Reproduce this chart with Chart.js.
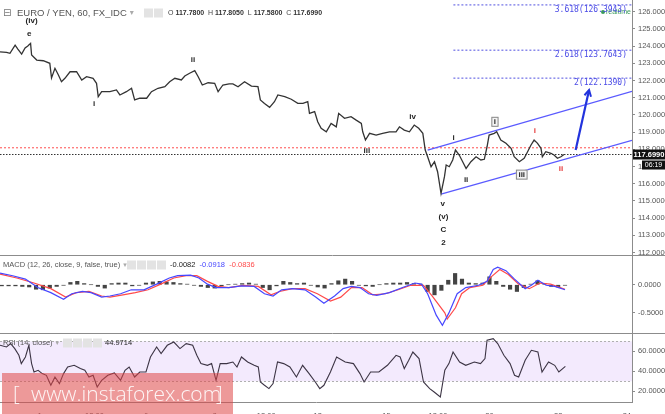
<!DOCTYPE html>
<html lang="en">
<head>
    <meta charset="UTF-8">
    <title>EURO / YEN, 60, FX_IDC</title>
    <!-- Chart.js -->
    <script src="https://cdn.jsdelivr.net/npm/chart.js"></script>
    <style>
        body {
            margin: 0;
            background: #fff;
            font-family: Arial, "Liberation Sans", sans-serif;
        }
        #wrap {
            position: relative;
            width: 665px;
            height: 414px;
            overflow: hidden;
        }
        .pane {
            position: absolute;
            left: 0;
        }
        #main-pane { top: 0; }
        #macd-pane { top: 256px; }
        #rsi-pane { top: 334px; }
        .watermark {
            position: absolute;
            left: 2px;
            top: 373px;
            width: 231px;
            height: 41px;
            background: rgba(222, 70, 70, 0.55);
            color: rgba(255, 255, 255, 0.9);
            font-family: "Open Sans", Arial, sans-serif;
            font-size: 21px;
            font-weight: 300;
            line-height: 40px;
        }
        .watermark span { position: absolute; top: 0; }
    </style>
</head>
<body>
<div id="wrap">
    <canvas id="main-pane" class="pane" width="665" height="256"></canvas>
    <canvas id="macd-pane" class="pane" width="665" height="78"></canvas>
    <canvas id="rsi-pane" class="pane" width="665" height="80"></canvas>
    <div class="watermark">
        <span style="left:11px">[</span>
        <span style="left:29px">www.instaforex.com</span>
        <span style="left:214px">]</span>
    </div>
</div>

<script>
    // x values are trading days counted from Jun 1 00:00 (weekends skipped)
    const X_MIN = -1.25;
    const X_MAX = 17.15;

    // Time axis
    const tickDays = [0, 1.5, 3, 5, 6.5, 8, 10, 11.5, 13, 15, 17];
    const tickLabels = ["Jun", "12:00", "6", "8", "12:00", "13", "15", "12:00", "20", "22", "24"];

    // Price pane
    const priceTicks = [112, 113, 114, 115, 116, 117, 118, 119, 120, 121, 122, 123, 124, 125, 126];
    const priceDays = [-1.25, -1.06, -0.96, -0.81, -0.73, -0.62, -0.52, -0.44, -0.36, -0.33,
        -0.18, 0.01, 0.20, 0.25, 0.35, 0.45, 0.54, 0.64, 0.79, 0.98,
        1.13, 1.27, 1.46, 1.56, 1.61, 1.71, 1.95, 2.14, 2.24, 2.43,
        2.58, 2.67, 2.82, 3.02, 3.16, 3.35, 3.55, 3.69, 3.84, 4.03,
        4.13, 4.27, 4.42, 4.52, 4.64, 4.81, 5.00, 5.10, 5.24, 5.42,
        5.53, 5.68, 5.87, 6.07, 6.26, 6.33, 6.45, 6.60, 6.74, 6.84,
        7.04, 7.23, 7.42, 7.57, 7.71, 7.76, 7.91, 8.00, 8.10, 8.25,
        8.39, 8.54, 8.61, 8.78, 8.97, 9.12, 9.27, 9.31, 9.39, 9.51,
        9.70, 9.89, 10.09, 10.28, 10.38, 10.52, 10.67, 10.81, 10.94, 11.06,
        11.13, 11.20, 11.30, 11.40, 11.49, 11.59, 11.69, 11.74, 11.83, 11.93,
        12.01, 12.12, 12.22, 12.32, 12.46, 12.61, 12.75, 12.85, 12.93, 12.99,
        13.14, 13.21, 13.33, 13.48, 13.63, 13.72, 13.87, 14.01, 14.11, 14.21,
        14.30, 14.40, 14.50, 14.54, 14.64, 14.79, 14.88, 14.98, 15.08, 15.17];
    const priceValues = [123.67, 123.64, 123.58, 124.06, 123.83, 123.54, 123.89, 124.01, 124.16, 123.48,
        123.19, 123.15, 123.00, 122.15, 122.71, 122.32, 121.93, 122.13, 122.51, 122.51,
        122.03, 122.22, 122.13, 121.84, 121.06, 121.35, 121.35, 121.45, 121.16, 121.35,
        121.55, 120.87, 120.97, 120.97, 121.35, 121.55, 121.64, 121.93, 122.13, 122.03,
        122.26, 122.42, 122.57, 122.22, 121.74, 121.87, 121.84, 121.35, 121.74, 121.80,
        121.80, 121.64, 121.93, 121.68, 121.64, 120.87, 120.67, 120.44, 120.77, 121.16,
        121.06, 120.91, 120.67, 120.67, 120.77, 120.09, 120.19, 119.60, 119.22, 119.02,
        119.51, 119.31, 120.09, 119.80, 119.90, 119.70, 119.51, 119.02, 118.54, 118.93,
        118.83, 118.93, 119.02, 119.02, 119.31, 119.12, 119.02, 119.41, 119.22, 118.93,
        117.96, 117.57, 116.99, 117.28, 116.70, 115.44, 116.41, 117.09, 116.99, 117.38,
        117.96, 117.67, 117.28, 116.89, 117.28, 117.57, 117.38, 117.42, 118.15, 118.83,
        118.93, 119.02, 118.54, 118.35, 118.06, 117.57, 117.28, 117.48, 117.86, 118.25,
        118.54, 118.35, 118.06, 117.57, 117.86, 117.77, 117.67, 117.48, 117.57, 117.70];
    const lastPrice = 117.699;
    const resistanceLevel = 118.09;

    // Channel, arrow and fibonacci targets
    const upperChannelDays = [11.20, 17.15];
    const upperChannelPrices = [117.96, 121.37];
    const lowerChannelDays = [11.59, 17.15];
    const lowerChannelPrices = [115.40, 118.52];
    const arrowDays = [15.51, 15.90];
    const arrowPrices = [117.96, 121.45];
    const fibStartDay = 11.95;
    const fibLevels = [126.3943, 123.7643, 122.1390];
    const fibLabels = ["3.618(126.3943)", "2.618(123.7643)", "2(122.1390)"];

    // Wave count labels
    const waveTexts = ["(iv)", "e", "i", "ii", "iii", "iv", "i", "ii", "i", "iii", "i", "ii", "v", "(v)", "C", "2"];
    const waveDays = [-0.33, -0.40, 1.49, 4.37, 9.43, 10.76, 11.96, 12.32, 13.16, 13.94, 14.32, 15.08, 11.64, 11.66, 11.66, 11.66];
    const wavePrices = [125.48, 124.74, 120.62, 123.19, 117.93, 119.90, 118.67, 116.21, 119.60, 116.53, 119.06, 116.85, 114.86, 114.08, 113.35, 112.59];
    const waveKinds = ["plain", "plain", "plain", "plain", "plain", "plain", "plain", "plain", "boxed", "boxed", "red", "red", "plain", "plain", "plain", "plain"];

    // MACD pane
    const macdTicks = [0, -0.5];
    const macdDays = [-1.25, -0.88, -0.51, -0.15, 0.23, 0.60, 0.84, 1.15, 1.40, 1.71,
        1.95, 2.26, 2.57, 2.94, 3.31, 3.68, 3.92, 4.30, 4.54, 4.79,
        5.04, 5.41, 5.78, 6.15, 6.45, 6.70, 6.95, 7.26, 7.63, 7.94,
        8.18, 8.49, 8.74, 8.98, 9.23, 9.48, 9.72, 10.09, 10.47, 10.83,
        11.02, 11.20, 11.45, 11.63, 11.82, 12.06, 12.31, 12.68, 12.93, 13.11,
        13.24, 13.48, 13.73, 14.04, 14.22, 14.41, 14.65, 14.90, 15.20];
    const macdValues = [0.205, 0.16, 0.10, -0.05, -0.14, -0.26, -0.16, -0.12, -0.14, -0.22,
        -0.20, -0.16, -0.09, -0.09, 0.01, 0.12, 0.16, 0.17, 0.12, 0.01,
        -0.05, -0.05, -0.02, -0.03, -0.16, -0.20, -0.09, -0.07, -0.09, -0.22,
        -0.33, -0.20, -0.07, -0.03, -0.05, -0.16, -0.19, -0.14, -0.05, 0.03,
        0.01, -0.16, -0.54, -0.72, -0.50, -0.16, -0.05, -0.01, 0.06, 0.27,
        0.31, 0.25, 0.10, -0.07, -0.01, 0.08, -0.01, -0.03, -0.09];
    const signalDays = [-1.25, -0.76, -0.26, 0.23, 0.66, 0.97, 1.34, 1.71, 1.95, 2.33,
        2.69, 3.06, 3.43, 3.81, 4.17, 4.48, 4.79, 5.10, 5.41, 5.84,
        6.27, 6.64, 6.89, 7.26, 7.63, 7.99, 8.37, 8.67, 8.98, 9.29,
        9.60, 9.97, 10.34, 10.71, 11.08, 11.33, 11.70, 11.77, 12.01, 12.19,
        12.43, 12.81, 13.05, 13.30, 13.55, 13.85, 14.16, 14.47, 14.78, 15.20];
    const signalValues = [0.19, 0.12, 0.03, -0.07, -0.22, -0.14, -0.12, -0.20, -0.22, -0.18,
        -0.14, -0.09, 0.01, 0.12, 0.16, 0.16, 0.06, -0.03, -0.05, -0.01,
        -0.03, -0.18, -0.12, -0.07, -0.07, -0.16, -0.29, -0.22, -0.05, -0.05,
        -0.18, -0.16, -0.09, -0.01, -0.01, -0.20, -0.50, -0.61, -0.41, -0.16,
        -0.05, -0.01, 0.14, 0.27, 0.18, 0.01, -0.07, 0.03, 0.01, -0.08];
    const histDays = [-1.2, -1.0, -0.8, -0.6, -0.4, -0.2, 0.0, 0.2, 0.4, 0.6,
        0.8, 1.0, 1.2, 1.4, 1.6, 1.8, 2.0, 2.2, 2.4, 2.6,
        2.8, 3.0, 3.2, 3.4, 3.6, 3.8, 4.0, 4.2, 4.4, 4.6,
        4.8, 5.0, 5.2, 5.4, 5.6, 5.8, 6.0, 6.2, 6.4, 6.6,
        6.8, 7.0, 7.2, 7.4, 7.6, 7.8, 8.0, 8.2, 8.4, 8.6,
        8.8, 9.0, 9.2, 9.4, 9.6, 9.8, 10.0, 10.2, 10.4, 10.6,
        10.8, 11.0, 11.2, 11.4, 11.6, 11.8, 12.0, 12.2, 12.4, 12.6,
        12.8, 13.0, 13.2, 13.4, 13.6, 13.8, 14.0, 14.2, 14.4, 14.6,
        14.8, 15.0, 15.2];
    const histValues = [-0.02, -0.02, -0.02, -0.03, -0.04, -0.08, -0.09, -0.06, -0.03, -0.01,
        0.04, 0.06, 0.02, 0.00, -0.03, -0.06, 0.02, 0.03, 0.03, -0.02,
        -0.01, 0.03, 0.05, 0.06, 0.05, 0.04, 0.02, 0.01, -0.01, -0.03,
        -0.05, -0.06, -0.02, 0.00, 0.01, 0.02, 0.03, 0.01, -0.05, -0.09,
        -0.02, 0.06, 0.04, 0.02, 0.03, -0.01, -0.04, -0.06, 0.02, 0.07,
        0.10, 0.06, -0.01, -0.02, -0.03, 0.00, 0.02, 0.03, 0.03, 0.04,
        0.02, 0.01, -0.12, -0.18, -0.10, 0.08, 0.20, 0.10, 0.03, 0.02,
        0.03, 0.14, 0.06, -0.03, -0.08, -0.12, -0.05, 0.01, 0.07, 0.02,
        -0.03, -0.04, -0.01];

    // RSI pane
    const rsiTicks = [20, 40, 60];
    const rsiBand = [30, 70];
    const rsiDays = [-1.25, -1.06, -0.94, -0.82, -0.70, -0.63, -0.51, -0.41, -0.33, -0.26,
        -0.14, -0.02, 0.10, 0.23, 0.35, 0.48, 0.60, 0.72, 0.91, 1.09,
        1.22, 1.34, 1.46, 1.58, 1.71, 1.89, 2.08, 2.26, 2.39, 2.51,
        2.67, 2.82, 3.00, 3.13, 3.31, 3.44, 3.62, 3.81, 3.99, 4.17,
        4.36, 4.48, 4.60, 4.79, 4.91, 5.04, 5.16, 5.35, 5.53, 5.65,
        5.78, 5.96, 6.15, 6.27, 6.33, 6.45, 6.58, 6.70, 6.83, 7.01,
        7.19, 7.38, 7.56, 7.75, 7.93, 8.06, 8.18, 8.37, 8.55, 8.80,
        9.04, 9.23, 9.35, 9.54, 9.78, 10.03, 10.28, 10.40, 10.52, 10.65,
        10.77, 10.95, 11.08, 11.26, 11.39, 11.57, 11.70, 11.82, 11.94, 12.13,
        12.31, 12.56, 12.74, 12.87, 12.93, 13.11, 13.24, 13.42, 13.60, 13.73,
        13.85, 14.04, 14.22, 14.41, 14.53, 14.72, 14.90, 15.02, 15.21];
    const rsiValues = [66, 64.3, 67.7, 62.7, 56, 47.7, 54.3, 66, 47.7, 39.3,
        41, 37.7, 36, 26, 34.3, 27.7, 37.7, 44.3, 46, 42.7,
        41, 34.3, 36, 24.3, 31, 36, 38.3, 31, 41, 44.3,
        34.3, 39.3, 39.3, 54.3, 64.3, 57.7, 66, 69.3, 62.7, 67.7,
        66, 56, 47.7, 46, 47.7, 31, 47.7, 47.7, 49.3, 44.3,
        54.3, 49.3, 46, 44.3, 29.3, 26, 22.7, 27.7, 49.3, 47.7,
        44.3, 34.3, 46, 37.7, 29.3, 22.7, 26, 39.3, 54.3, 49.3,
        47.7, 37.7, 29.3, 39.3, 39.3, 46, 56, 54.3, 42.7, 51,
        59.3, 52.7, 29.3, 22.7, 19.3, 14.3, 41, 47.7, 59.3, 49.3,
        46, 49.3, 47.7, 52.7, 71, 72.7, 67.7, 56, 47.7, 36,
        34.3, 51, 61, 59.3, 39.3, 49.3, 46, 39.3, 45];

    const AXIS_W = 33;
    const AXIS_COLOR = "#8c8c8c";
    const LABEL_COLOR = "#555";

    // Pair two arrays into {x, y} points
    function toPoints(xs, ys) {
        return xs.map((x, i) => ({ x: x, y: ys[i] }));
    }

    function lineSet(xs, ys, color, width, dash) {
        return {
            data: toPoints(xs, ys),
            borderColor: color,
            borderWidth: width,
            borderDash: dash || [],
            pointRadius: 0,
            tension: 0,
            fill: false
        };
    }

    // Remove the automatic label padding so every pane lines up exactly
    function noPadding(s) {
        s.paddingTop = 0;
        s.paddingBottom = 0;
        s.paddingLeft = 0;
        s.paddingRight = 0;
    }

    // Shared time axis (only the RSI pane shows it)
    function timeAxis(show) {
        return {
            type: "linear",
            min: X_MIN,
            max: X_MAX,
            offset: false,
            display: show,
            grid: { display: false },
            border: { display: true, color: AXIS_COLOR },
            ticks: {
                autoSkip: false,
                maxRotation: 0,
                padding: 1,
                color: LABEL_COLOR,
                font: { size: 7.5, family: "Arial" },
                callback: (v, i) => tickLabels[i]
            },
            afterBuildTicks: s => { s.ticks = tickDays.map(v => ({ value: v })); },
            afterFit: s => {
                s.height = show ? 12 : 0;
                noPadding(s);
            }
        };
    }

    // Right hand value axis with fixed width
    function valueAxis(min, max, ticks) {
        return {
            position: "right",
            min: min,
            max: max,
            grid: { display: true, drawOnChartArea: false, tickLength: 3, color: AXIS_COLOR },
            border: { display: true, color: AXIS_COLOR },
            ticks: {
                padding: 3,
                color: LABEL_COLOR,
                font: { size: 7.5, family: "Arial" },
                callback: v => Number(v).toFixed(4)
            },
            afterBuildTicks: s => { s.ticks = ticks.map(v => ({ value: v })); },
            afterFit: s => { s.width = AXIS_W; noPadding(s); }
        };
    }

    function baseOptions(scales) {
        return {
            responsive: false,
            animation: false,
            layout: { padding: 0 },
            plugins: { legend: { display: false }, tooltip: { enabled: false } },
            scales: scales
        };
    }

    // Small grey icon squares used in the pane headers
    function drawIcons(ctx, x, y, n) {
        ctx.fillStyle = "#e3e3e3";
        for (let i = 0; i < n; i++) {
            ctx.fillRect(x + i * 10, y - 4.5, 9, 9);
        }
    }

    function drawText(ctx, text, x, y, color, font) {
        ctx.font = font;
        ctx.fillStyle = color;
        ctx.textAlign = "left";
        ctx.textBaseline = "middle";
        ctx.fillText(text, x, y);
        return x + ctx.measureText(text).width;
    }

    function paneSeparator(ctx, y, width) {
        ctx.save();
        ctx.strokeStyle = AXIS_COLOR;
        ctx.lineWidth = 1;
        ctx.beginPath();
        ctx.moveTo(0, y + 0.5);
        ctx.lineTo(width, y + 0.5);
        ctx.stroke();
        ctx.restore();
    }

    // ---- price pane ----
    const mainOverlay = {
        id: "mainOverlay",
        afterDatasetsDraw(chart) {
            const ctx = chart.ctx;
            const xs = chart.scales.x;
            const ys = chart.scales.y;
            ctx.save();

            // arrow head at the end of the arrow line
            const pts = chart.getDatasetMeta(1).data;
            const a = pts[0], b = pts[pts.length - 1];
            const ang = Math.atan2(b.y - a.y, b.x - a.x);
            ctx.strokeStyle = "#2233dd";
            ctx.lineWidth = 2;
            ctx.beginPath();
            ctx.moveTo(b.x - 7 * Math.cos(ang - 0.5), b.y - 7 * Math.sin(ang - 0.5));
            ctx.lineTo(b.x, b.y);
            ctx.lineTo(b.x - 7 * Math.cos(ang + 0.5), b.y - 7 * Math.sin(ang + 0.5));
            ctx.stroke();

            // realtime marker + fibonacci labels
            ctx.fillStyle = "#3a9a5a";
            ctx.beginPath();
            ctx.arc(chart.chartArea.right - 29, 12, 2, 0, Math.PI * 2);
            ctx.fill();
            drawText(ctx, "realtime", chart.chartArea.right - 26, 12, "#3a9a5a", "7px Arial");
            ctx.font = '8px "DejaVu Sans Mono"';
            ctx.textAlign = "right";
            ctx.textBaseline = "middle";
            fibLevels.forEach((lvl, i) => {
                const py = ys.getPixelForValue(lvl);
                ctx.fillStyle = "#4a4ae6";
                ctx.fillText(fibLabels[i], chart.chartArea.right - 5, Math.max(py + 5, 8));
            });

            // wave count labels
            ctx.textAlign = "center";
            waveTexts.forEach((t, i) => {
                const px = xs.getPixelForValue(waveDays[i]);
                const py = ys.getPixelForValue(wavePrices[i]);
                ctx.font = "bold 8px Arial";
                if (waveKinds[i] === "boxed") {
                    const w = ctx.measureText(t).width + 5;
                    ctx.fillStyle = "#f4f4f4";
                    ctx.fillRect(px - w / 2, py - 5, w, 10);
                    ctx.strokeStyle = "#888";
                    ctx.lineWidth = 1;
                    ctx.strokeRect(px - w / 2 + 0.5, py - 4.5, w - 1, 9);
                }
                ctx.fillStyle = waveKinds[i] === "red" ? "#e53535" : "#222";
                ctx.fillText(t, px, py);
            });
            ctx.restore();
        },
        afterDraw(chart) {
            const ctx = chart.ctx;
            const ys = chart.scales.y;
            ctx.save();

            // header line
            let x = drawText(ctx, "\u229F", 3, 13, "#777", "10px \"DejaVu Sans\"");
            x = drawText(ctx, "EURO / YEN, 60, FX_IDC", 17, 13, "#555", "9.5px Arial");
            drawText(ctx, "\u25BE", x + 3, 13, "#aaa", "8px \"DejaVu Sans\"");
            drawIcons(ctx, 144, 13, 2);
            x = 168;
            x = drawText(ctx, "O ", x, 13, "#444", "7px Arial");
            x = drawText(ctx, "117.7800  ", x, 13, "#333", "bold 7px Arial");
            x = drawText(ctx, "H ", x, 13, "#444", "7px Arial");
            x = drawText(ctx, "117.8050  ", x, 13, "#333", "bold 7px Arial");
            x = drawText(ctx, "L ", x, 13, "#444", "7px Arial");
            x = drawText(ctx, "117.5800  ", x, 13, "#333", "bold 7px Arial");
            x = drawText(ctx, "C ", x, 13, "#444", "7px Arial");
            drawText(ctx, "117.6990", x, 13, "#333", "bold 7px Arial");

            // last price tag and bar countdown on the axis
            const py = ys.getPixelForValue(lastPrice);
            const left = chart.chartArea.right + 1;
            ctx.fillStyle = "#111";
            ctx.fillRect(left, py - 5, chart.width - left, 10);
            ctx.fillRect(left + 9, py + 6, chart.width - left - 9, 9);
            ctx.font = "bold 7.5px Arial";
            ctx.fillStyle = "#fff";
            ctx.textAlign = "center";
            ctx.textBaseline = "middle";
            ctx.fillText(lastPrice.toFixed(4), (left + chart.width) / 2, py);
            ctx.font = "7px Arial";
            ctx.fillText("06:19", (left + 9 + chart.width) / 2, py + 10.5);

            paneSeparator(ctx, chart.height - 1, chart.width);
            ctx.restore();
        }
    };

    const mainDatasets = [
        lineSet(priceDays, priceValues, "#333", 1.3),
        lineSet(arrowDays, arrowPrices, "#2233dd", 2.2),
        lineSet(upperChannelDays, upperChannelPrices, "#5a5aff", 1.3),
        lineSet(lowerChannelDays, lowerChannelPrices, "#5a5aff", 1.3),
        lineSet([X_MIN, X_MAX], [resistanceLevel, resistanceLevel], "#ff4d4d", 1, [2, 2]),
        lineSet([X_MIN, X_MAX], [lastPrice, lastPrice], "#333", 1, [1.5, 1.5])
    ];
    fibLevels.forEach(lvl => {
        mainDatasets.push(lineSet([fibStartDay, X_MAX], [lvl, lvl], "#5050e0", 1, [2, 2]));
    });

    new Chart(document.getElementById("main-pane"), {
        type: "line",
        data: { datasets: mainDatasets },
        options: baseOptions({
            x: timeAxis(false),
            y: valueAxis(111.80, 126.68, priceTicks)
        }),
        plugins: [mainOverlay]
    });

    // ---- MACD pane ----
    const macdOverlay = {
        id: "macdOverlay",
        afterDraw(chart) {
            const ctx = chart.ctx;
            ctx.save();
            let x = drawText(ctx, "MACD (12, 26, close, 9, false, true)", 3, 9, "#555", "7.5px Arial");
            drawText(ctx, "\u25BE", x + 3, 9, "#aaa", "7px \"DejaVu Sans\"");
            drawIcons(ctx, 127, 9, 4);
            x = drawText(ctx, "-0.0082  ", 170, 9, "#222", "7.5px Arial");
            x = drawText(ctx, "-0.0918  ", x, 9, "#4747ff", "7.5px Arial");
            drawText(ctx, "-0.0836", x, 9, "#ff4a4a", "7.5px Arial");
            paneSeparator(ctx, chart.height - 1, chart.width);
            ctx.restore();
        }
    };

    new Chart(document.getElementById("macd-pane"), {
        type: "line",
        data: {
            datasets: [
                lineSet(macdDays, macdValues, "#4747ff", 1.2),
                lineSet(signalDays, signalValues, "#ff4a4a", 1.2),
                {
                    type: "bar",
                    data: toPoints(histDays, histValues),
                    backgroundColor: "#444",
                    barThickness: 3.5
                }
            ]
        },
        options: baseOptions({
            x: timeAxis(false),
            y: valueAxis(-0.875, 0.51, macdTicks)
        }),
        plugins: [macdOverlay]
    });

    // ---- RSI pane ----
    const rsiOverlay = {
        id: "rsiOverlay",
        beforeDatasetsDraw(chart) {
            const ctx = chart.ctx;
            const ys = chart.scales.y;
            const area = chart.chartArea;
            const top = ys.getPixelForValue(rsiBand[1]);
            const bottom = ys.getPixelForValue(rsiBand[0]);
            ctx.save();
            ctx.fillStyle = "#f3eafd";
            ctx.fillRect(area.left, top, area.right - area.left, bottom - top);
            ctx.strokeStyle = "#b0b0b0";
            ctx.setLineDash([2, 2]);
            ctx.lineWidth = 1;
            [top, bottom].forEach(y => {
                ctx.beginPath();
                ctx.moveTo(area.left, Math.round(y) + 0.5);
                ctx.lineTo(area.right, Math.round(y) + 0.5);
                ctx.stroke();
            });
            ctx.restore();
        },
        afterDraw(chart) {
            const ctx = chart.ctx;
            ctx.save();
            let x = drawText(ctx, "RSI (14, close)", 3, 9, "#555", "7.5px Arial");
            drawText(ctx, "\u25BE", x + 3, 9, "#aaa", "7px \"DejaVu Sans\"");
            drawIcons(ctx, 63, 9, 4);
            drawText(ctx, "44.9714", 105, 9, "#222", "7.5px Arial");
            ctx.restore();
        }
    };

    new Chart(document.getElementById("rsi-pane"), {
        type: "line",
        data: {
            datasets: [lineSet(rsiDays, rsiValues, "#3c3444", 1.1)]
        },
        options: baseOptions({
            x: timeAxis(true),
            y: valueAxis(9.3, 77.3, rsiTicks)
        }),
        plugins: [rsiOverlay]
    });
</script>
</body>
</html>
